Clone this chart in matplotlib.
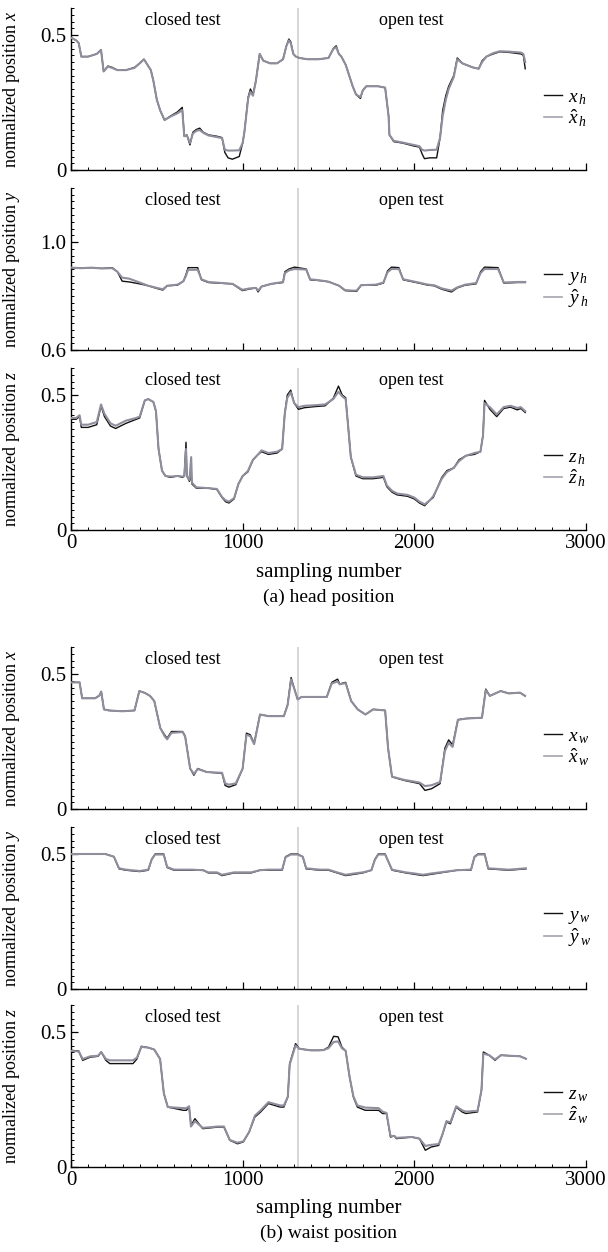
import matplotlib
matplotlib.use('Agg')
import matplotlib.pyplot as plt
import numpy as np
from matplotlib.ticker import MultipleLocator
from matplotlib.lines import Line2D

plt.rcParams['font.family'] = ['Liberation Serif', 'DejaVu Serif']
plt.rcParams['mathtext.fontset'] = 'custom'
plt.rcParams['mathtext.rm'] = 'Liberation Serif'
plt.rcParams['mathtext.it'] = 'Liberation Serif:italic'

# ---------------- data ----------------
# (a) head position, x
hx_s = [0, 30, 45, 60, 100, 150, 175, 190, 215, 240, 270, 320, 370, 400, 425, 445, 465, 480, 500, 520,
        545, 580, 620, 648, 660, 675, 693, 710, 730, 750, 770, 800, 850, 880, 896, 915, 940, 980, 1000, 1010,
        1032, 1045, 1060, 1077, 1099, 1120, 1160, 1200, 1235, 1255, 1269, 1280, 1295, 1310, 1330, 1380, 1440, 1500, 1528, 1545,
        1560, 1575, 1600, 1641, 1660, 1686, 1700, 1720, 1790, 1830, 1850, 1855, 1880, 1930, 2002, 2030, 2045, 2059, 2090, 2130,
        2150, 2165, 2183, 2200, 2230, 2250, 2280, 2340, 2375, 2395, 2420, 2460, 2499, 2560, 2620, 2635, 2646]
hx_true = [0.49, 0.48, 0.47, 0.42, 0.42, 0.43, 0.445, 0.365, 0.385, 0.38, 0.37, 0.37, 0.38, 0.395, 0.41, 0.39, 0.37, 0.33, 0.26, 0.22,
           0.185, 0.2, 0.215, 0.232, 0.125, 0.13, 0.093, 0.14, 0.15, 0.155, 0.14, 0.13, 0.125, 0.12, 0.065, 0.045, 0.04, 0.05, 0.1, 0.14,
           0.27, 0.3, 0.28, 0.33, 0.43, 0.405, 0.395, 0.395, 0.41, 0.46, 0.485, 0.475, 0.43, 0.42, 0.415, 0.41, 0.41, 0.415, 0.45, 0.46,
           0.43, 0.42, 0.39, 0.31, 0.28, 0.265, 0.295, 0.31, 0.31, 0.305, 0.2, 0.13, 0.105, 0.1, 0.088, 0.085, 0.06, 0.042, 0.045, 0.045,
           0.12, 0.22, 0.275, 0.31, 0.35, 0.415, 0.395, 0.38, 0.375, 0.405, 0.42, 0.43, 0.438, 0.435, 0.43, 0.425, 0.375]
hx_est = [0.49, 0.48, 0.47, 0.42, 0.42, 0.43, 0.445, 0.365, 0.383, 0.378, 0.37, 0.37, 0.378, 0.395, 0.41, 0.39, 0.37, 0.33, 0.26, 0.22,
          0.185, 0.198, 0.21, 0.222, 0.125, 0.128, 0.1, 0.135, 0.145, 0.148, 0.138, 0.128, 0.122, 0.118, 0.075, 0.072, 0.072, 0.073, 0.1, 0.14,
          0.265, 0.29, 0.275, 0.33, 0.43, 0.405, 0.395, 0.395, 0.41, 0.46, 0.48, 0.47, 0.43, 0.42, 0.415, 0.41, 0.41, 0.415, 0.448, 0.455,
          0.43, 0.42, 0.39, 0.31, 0.28, 0.27, 0.295, 0.31, 0.31, 0.305, 0.2, 0.13, 0.108, 0.102, 0.092, 0.088, 0.075, 0.072, 0.074, 0.075,
          0.12, 0.2, 0.26, 0.3, 0.345, 0.41, 0.395, 0.38, 0.375, 0.4, 0.42, 0.433, 0.44, 0.438, 0.435, 0.43, 0.4]

# (a) head position, y
hy_s = [0, 60, 120, 180, 240, 270, 298, 340, 400, 450, 500, 535, 560, 620, 655, 670, 682, 738, 760, 800,
        880, 941, 998, 1040, 1077, 1090, 1110, 1167, 1235, 1246, 1270, 1302, 1370, 1393, 1450, 1500, 1562, 1596, 1640, 1664,
        1690, 1776, 1820, 1844, 1867, 1910, 1935, 2025, 2080, 2115, 2160, 2217, 2250, 2296, 2360, 2386, 2409, 2488, 2521, 2600, 2646]
hy_true = [0.905, 0.903, 0.905, 0.902, 0.905, 0.89, 0.855, 0.852, 0.845, 0.838, 0.828, 0.822, 0.838, 0.84, 0.855, 0.88, 0.905, 0.905, 0.86, 0.85,
           0.847, 0.845, 0.82, 0.826, 0.83, 0.815, 0.835, 0.845, 0.85, 0.89, 0.9, 0.907, 0.9, 0.86, 0.857, 0.853, 0.838, 0.82, 0.818, 0.817,
           0.84, 0.84, 0.848, 0.893, 0.907, 0.905, 0.86, 0.848, 0.84, 0.838, 0.825, 0.815, 0.83, 0.84, 0.845, 0.89, 0.907, 0.905, 0.848, 0.85, 0.85]
hy_est = [0.905, 0.903, 0.905, 0.902, 0.903, 0.89, 0.868, 0.864, 0.85, 0.838, 0.83, 0.825, 0.838, 0.842, 0.855, 0.875, 0.897, 0.897, 0.862, 0.852,
          0.848, 0.845, 0.823, 0.828, 0.83, 0.82, 0.835, 0.845, 0.852, 0.885, 0.895, 0.9, 0.898, 0.862, 0.858, 0.853, 0.838, 0.822, 0.82, 0.82,
          0.84, 0.842, 0.85, 0.888, 0.9, 0.9, 0.862, 0.85, 0.842, 0.84, 0.828, 0.82, 0.832, 0.842, 0.848, 0.885, 0.9, 0.9, 0.85, 0.852, 0.852]

# (a) head position, z
hz_s = [0, 30, 50, 60, 100, 150, 175, 195, 230, 260, 320, 380, 400, 430, 450, 480, 495, 510, 530, 550,
        580, 620, 650, 660, 670, 675, 690, 700, 705, 730, 800, 850, 880, 900, 920, 950, 975, 1000, 1030, 1060,
        1090, 1110, 1150, 1200, 1230, 1245, 1260, 1280, 1300, 1325, 1360, 1420, 1480, 1528, 1558, 1580, 1600, 1615, 1630, 1660,
        1700, 1760, 1820, 1840, 1870, 1900, 1960, 2000, 2030, 2060, 2090, 2110, 2130, 2160, 2190, 2230, 2260, 2300, 2350, 2385,
        2400, 2409, 2440, 2480, 2520, 2560, 2600, 2620, 2646]
hz_true = [0.41, 0.41, 0.42, 0.38, 0.38, 0.39, 0.46, 0.42, 0.385, 0.376, 0.395, 0.41, 0.415, 0.48, 0.485, 0.474, 0.44, 0.3, 0.22, 0.2,
           0.195, 0.2, 0.195, 0.2, 0.325, 0.2, 0.18, 0.2, 0.17, 0.155, 0.155, 0.15, 0.12, 0.105, 0.1, 0.115, 0.17, 0.2, 0.215, 0.26,
           0.28, 0.29, 0.28, 0.285, 0.3, 0.43, 0.5, 0.518, 0.47, 0.447, 0.453, 0.457, 0.46, 0.488, 0.533, 0.5, 0.49, 0.38, 0.27, 0.2,
           0.19, 0.19, 0.195, 0.16, 0.14, 0.13, 0.125, 0.115, 0.1, 0.09, 0.11, 0.12, 0.15, 0.195, 0.22, 0.23, 0.26, 0.275, 0.28, 0.29,
           0.35, 0.48, 0.447, 0.42, 0.45, 0.455, 0.445, 0.45, 0.435]
hz_est = [0.415, 0.415, 0.425, 0.39, 0.39, 0.4, 0.465, 0.43, 0.395, 0.386, 0.405, 0.415, 0.42, 0.48, 0.485, 0.474, 0.44, 0.3, 0.22, 0.2,
          0.198, 0.2, 0.198, 0.2, 0.3, 0.2, 0.185, 0.27, 0.175, 0.158, 0.155, 0.152, 0.122, 0.11, 0.105, 0.118, 0.17, 0.2, 0.218, 0.26,
          0.28, 0.295, 0.285, 0.29, 0.3, 0.43, 0.49, 0.51, 0.47, 0.455, 0.46, 0.462, 0.465, 0.485, 0.512, 0.495, 0.485, 0.38, 0.27, 0.205,
          0.195, 0.195, 0.2, 0.165, 0.145, 0.135, 0.13, 0.12, 0.105, 0.095, 0.11, 0.125, 0.15, 0.19, 0.215, 0.23, 0.255, 0.275, 0.285, 0.29,
          0.35, 0.47, 0.455, 0.428, 0.455, 0.46, 0.452, 0.455, 0.44]

# (b) waist position, x
wx_s = [0, 50, 65, 140, 165, 176, 192, 220, 300, 370, 398, 430, 460, 485, 520, 545, 560, 585, 650, 665,
        694, 716, 738, 790, 880, 898, 920, 960, 1000, 1022, 1044, 1067, 1101, 1150, 1240, 1262, 1282, 1305, 1320, 1343,
        1490, 1519, 1553, 1565, 1600, 1632, 1670, 1715, 1760, 1830, 1847, 1870, 1940, 2030, 2062, 2100, 2150, 2178, 2200, 2223,
        2254, 2300, 2394, 2416, 2440, 2503, 2550, 2615, 2645]
wx_true = [0.469, 0.469, 0.41, 0.41, 0.42, 0.435, 0.369, 0.365, 0.362, 0.365, 0.437, 0.43, 0.419, 0.4, 0.3, 0.275, 0.262, 0.287, 0.287, 0.27,
           0.15, 0.125, 0.15, 0.137, 0.132, 0.087, 0.081, 0.09, 0.15, 0.281, 0.275, 0.244, 0.35, 0.344, 0.344, 0.387, 0.487, 0.437, 0.406, 0.415,
           0.415, 0.469, 0.481, 0.463, 0.469, 0.4, 0.369, 0.35, 0.369, 0.365, 0.225, 0.119, 0.106, 0.094, 0.069, 0.075, 0.094, 0.225, 0.256, 0.237,
           0.331, 0.335, 0.338, 0.444, 0.419, 0.437, 0.428, 0.431, 0.419]
wx_est = [0.469, 0.469, 0.41, 0.41, 0.42, 0.435, 0.369, 0.365, 0.362, 0.365, 0.437, 0.43, 0.419, 0.4, 0.3, 0.27, 0.258, 0.282, 0.285, 0.268,
          0.15, 0.13, 0.148, 0.137, 0.134, 0.095, 0.09, 0.095, 0.15, 0.275, 0.27, 0.24, 0.35, 0.344, 0.344, 0.385, 0.48, 0.437, 0.406, 0.415,
          0.415, 0.465, 0.472, 0.462, 0.466, 0.4, 0.369, 0.35, 0.369, 0.365, 0.225, 0.12, 0.108, 0.098, 0.085, 0.088, 0.1, 0.215, 0.245, 0.23,
          0.33, 0.335, 0.338, 0.44, 0.419, 0.437, 0.428, 0.431, 0.419]

# (b) waist position, y
wy_s = [0, 100, 200, 250, 280, 320, 400, 450, 470, 490, 540, 560, 600, 700, 770, 800, 850, 880, 950, 1050,
        1100, 1150, 1230, 1250, 1280, 1320, 1350, 1370, 1450, 1500, 1550, 1600, 1650, 1700, 1750, 1770, 1790, 1830, 1850, 1870,
        1950, 2000, 2050, 2100, 2150, 2250, 2330, 2350, 2370, 2410, 2430, 2550, 2650]
wy_true = [0.5, 0.5, 0.5, 0.49, 0.445, 0.44, 0.435, 0.44, 0.48, 0.5, 0.5, 0.45, 0.44, 0.44, 0.44, 0.43, 0.43, 0.42, 0.43, 0.43,
           0.44, 0.44, 0.44, 0.49, 0.5, 0.5, 0.49, 0.445, 0.44, 0.44, 0.43, 0.42, 0.425, 0.43, 0.44, 0.48, 0.5, 0.5, 0.47, 0.44,
           0.43, 0.425, 0.42, 0.425, 0.43, 0.44, 0.44, 0.49, 0.5, 0.5, 0.445, 0.44, 0.445]
wy_est = [0.5, 0.5, 0.5, 0.49, 0.447, 0.442, 0.437, 0.442, 0.48, 0.498, 0.498, 0.452, 0.442, 0.442, 0.44, 0.432, 0.432, 0.423, 0.432, 0.432,
          0.44, 0.442, 0.442, 0.488, 0.498, 0.498, 0.49, 0.447, 0.442, 0.442, 0.432, 0.423, 0.428, 0.432, 0.44, 0.478, 0.498, 0.498, 0.47, 0.442,
          0.432, 0.428, 0.423, 0.428, 0.432, 0.44, 0.442, 0.488, 0.498, 0.498, 0.447, 0.442, 0.447]

# (b) waist position, z
wz_s = [0, 45, 68, 113, 158, 176, 203, 226, 361, 384, 410, 451, 485, 519, 541, 564, 654, 672, 688, 699,
        722, 767, 857, 891, 925, 970, 1004, 1038, 1071, 1105, 1150, 1218, 1240, 1263, 1274, 1308, 1330, 1398, 1420, 1443,
        1470, 1500, 1530, 1556, 1578, 1600, 1623, 1645, 1668, 1714, 1792, 1815, 1838, 1861, 1884, 1895, 1985, 2030, 2064, 2098,
        2142, 2165, 2187, 2210, 2244, 2278, 2300, 2368, 2391, 2402, 2436, 2470, 2504, 2616, 2650]
wz_true = [0.432, 0.43, 0.395, 0.407, 0.41, 0.426, 0.395, 0.383, 0.383, 0.4, 0.447, 0.442, 0.435, 0.4, 0.272, 0.222, 0.21, 0.21, 0.222, 0.154,
           0.179, 0.142, 0.148, 0.148, 0.099, 0.086, 0.093, 0.13, 0.185, 0.204, 0.235, 0.222, 0.222, 0.26, 0.383, 0.457, 0.438, 0.432, 0.432, 0.432,
           0.433, 0.444, 0.484, 0.482, 0.444, 0.43, 0.333, 0.259, 0.222, 0.21, 0.21, 0.198, 0.198, 0.111, 0.115, 0.105, 0.111, 0.105, 0.062, 0.074,
           0.08, 0.123, 0.167, 0.16, 0.222, 0.204, 0.198, 0.204, 0.284, 0.426, 0.414, 0.395, 0.414, 0.41, 0.401]
wz_est = [0.43, 0.428, 0.4, 0.41, 0.412, 0.426, 0.4, 0.395, 0.395, 0.405, 0.445, 0.442, 0.435, 0.4, 0.272, 0.222, 0.218, 0.218, 0.225, 0.15,
          0.17, 0.145, 0.15, 0.15, 0.1, 0.09, 0.095, 0.13, 0.19, 0.21, 0.24, 0.228, 0.228, 0.26, 0.38, 0.45, 0.438, 0.432, 0.432, 0.432,
          0.433, 0.44, 0.463, 0.465, 0.44, 0.43, 0.333, 0.262, 0.228, 0.22, 0.218, 0.205, 0.2, 0.115, 0.115, 0.108, 0.111, 0.105, 0.078, 0.082,
          0.085, 0.123, 0.17, 0.165, 0.225, 0.21, 0.205, 0.208, 0.284, 0.42, 0.414, 0.398, 0.414, 0.41, 0.401]

panels = [
    (hx_s, hx_true, hx_est, 'x', 'h', (0, 0.6), [0, 0.5], ['0', '0.5']),
    (hy_s, hy_true, hy_est, 'y', 'h', (0.6, 1.2), [0.6, 1.0], ['0.6', '1.0']),
    (hz_s, hz_true, hz_est, 'z', 'h', (0, 0.6), [0, 0.5], ['0', '0.5']),
    (wx_s, wx_true, wx_est, 'x', 'w', (0, 0.6), [0, 0.5], ['0', '0.5']),
    (wy_s, wy_true, wy_est, 'y', 'w', (0, 0.6), [0, 0.5], ['0', '0.5']),
    (wz_s, wz_true, wz_est, 'z', 'w', (0, 0.6), [0, 0.5], ['0', '0.5']),
]

split_at = 1320          # boundary closed / open test
x_ticks = [0, 1000, 2000, 3000]

# panel placement in pixels (top edge), figure is 608 x 1252
W, H = 608., 1252.
tops = [8, 188, 368, 647, 827, 1005]
left, width, height = 71, 515, 162

col_true = '#111111'
col_est = '#8e8e9c'

fig = plt.figure(figsize=(W / 100, H / 100), dpi=100)

for i, (s, y_t, y_e, comp, part, ylim, yt, ytl) in enumerate(panels):
    ax = fig.add_axes([left / W, 1 - (tops[i] + height) / H, width / W, height / H])

    ax.axvline(split_at, color='#cfcfcf', lw=1.2, zorder=1)
    ax.plot(s, y_t, color=col_true, lw=1.0, zorder=3)
    ax.plot(s, y_e, color=col_est, lw=1.5, zorder=4)

    ax.set_xlim(0, 3000)
    ax.set_ylim(*ylim)

    for sp in ['top', 'right']:
        ax.spines[sp].set_visible(False)
    for sp in ['left', 'bottom']:
        ax.spines[sp].set_linewidth(1.0)

    ax.set_xticks(x_ticks)
    ax.xaxis.set_minor_locator(MultipleLocator(100))
    ax.set_yticks(yt)
    ax.set_yticklabels(ytl)
    ax.yaxis.set_minor_locator(MultipleLocator(0.025))
    ax.tick_params(which='both', direction='in', labelsize=15)
    ax.tick_params(which='major', length=5, width=0.9)
    ax.tick_params(which='minor', length=2.5, width=0.7)
    if i in (2, 5):
        ax.set_xticklabels([str(t) for t in x_ticks])
        ax.tick_params(axis='x', pad=3)
    else:
        ax.set_xticklabels([])

    ax.set_ylabel('normalized position $' + comp + '$', fontsize=13)
    ax.yaxis.set_label_coords(-0.095, 0.5)

    ax.text(650, ylim[0] + 0.92 * (ylim[1] - ylim[0]), 'closed test', ha='center', va='center', fontsize=13)
    ax.text(1980, ylim[0] + 0.92 * (ylim[1] - ylim[0]), 'open test', ha='center', va='center', fontsize=13)

    handles = [Line2D([], [], color=col_true, lw=1.0), Line2D([], [], color='#a4a4ae', lw=1.2)]
    labels = ['$' + comp + '_{\\,' + part + '}$', '$\\hat{' + comp + '}_{\\,' + part + '}$']
    ax.legend(handles, labels, loc='center left', bbox_to_anchor=(0.9, 0.38), frameon=False,
              fontsize=14, handlelength=0.9, handletextpad=0.3, labelspacing=0.05, borderpad=0)

# axis titles and captions
fig.text((left + width / 2) / W, 1 - 572 / H, 'sampling number', ha='center', va='center', fontsize=15)
fig.text((left + width / 2) / W, 1 - 597 / H, '(a) head position', ha='center', va='center', fontsize=14)
fig.text((left + width / 2) / W, 1 - 1208 / H, 'sampling number', ha='center', va='center', fontsize=15)
fig.text((left + width / 2) / W, 1 - 1233 / H, '(b) waist position', ha='center', va='center', fontsize=14)

fig.savefig('out.png', dpi=100)
